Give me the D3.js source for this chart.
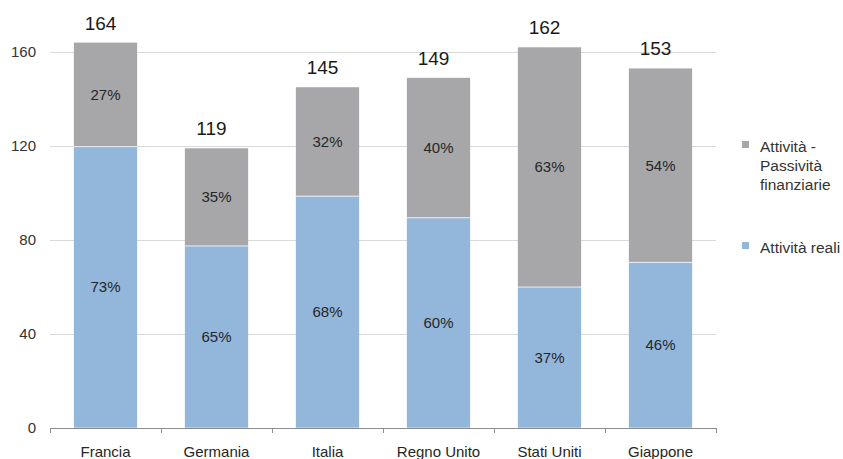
<!DOCTYPE html>
<html>
<head>
<meta charset="utf-8">
<script src="https://cdn.jsdelivr.net/npm/d3@7"></script>
<style>
  body { margin: 0; background: #fff; }
  text { font-family: Arial, "Liberation Sans", sans-serif; }
</style>
</head>
<body>
<script>
// data
var countries = ['Francia', 'Germania', 'Italia', 'Regno Unito', 'Stati Uniti', 'Giappone']
var totals = [164, 119, 145, 149, 162, 153]
var realValues = [119.7, 77.4, 98.6, 89.4, 59.9, 70.4]
var finValues = [44.3, 41.6, 46.4, 59.6, 102.1, 82.6]
var realPct = ['73%', '65%', '68%', '60%', '37%', '46%']
var finPct = ['27%', '35%', '32%', '40%', '63%', '54%']
var yTicks = [0, 40, 80, 120, 160]
var legendLabels = [['Attività -', 'Passività', 'finanziarie'], ['Attività reali']]

var width = 843
var height = 459
var margin = {top: 52, left: 50, right: 127, bottom: 31}

var colorReal = '#93b6db'
var colorFin = '#a7a7aa'

var svg = d3.select('body')
  .append('svg')
    .attr('width', width)
    .attr('height', height)

var x = d3.scaleBand()
  .domain(countries)
  .range([margin.left, width - margin.right])
  .paddingInner(0.43)
  .paddingOuter(0.215)

var y = d3.scaleLinear()
  .domain([0, 160])
  .range([height - margin.bottom - 0.3, margin.top])

// gridlines
svg.append('g')
  .selectAll('line')
  .data(yTicks.filter(function(d) { return d > 0 }))
  .enter().append('line')
    .attr('x1', margin.left)
    .attr('x2', width - margin.right)
    .attr('y1', function(d) { return Math.round(y(d)) + 0.5 })
    .attr('y2', function(d) { return Math.round(y(d)) + 0.5 })
    .attr('stroke', '#d9d9d9')
    .attr('stroke-width', 1)

// y axis labels
svg.append('g')
  .selectAll('text')
  .data(yTicks)
  .enter().append('text')
    .attr('x', 36)
    .attr('y', function(d) { return y(d) })
    .attr('dy', '0.35em')
    .attr('text-anchor', 'end')
    .attr('font-size', 15)
    .attr('fill', '#333')
    .text(function(d) { return d })

// bars
var bars = svg.append('g')
  .selectAll('g')
  .data(countries)
  .enter().append('g')

bars.append('rect')
  .attr('x', function(d) { return x(d) })
  .attr('width', x.bandwidth())
  .attr('y', function(d, i) { return y(realValues[i]) })
  .attr('height', function(d, i) { return y(0) - y(realValues[i]) })
  .attr('fill', colorReal)

bars.append('rect')
  .attr('x', function(d) { return x(d) })
  .attr('width', x.bandwidth())
  .attr('y', function(d, i) { return y(realValues[i] + finValues[i]) })
  .attr('height', function(d, i) { return y(realValues[i]) - y(realValues[i] + finValues[i]) })
  .attr('fill', colorFin)

// light separator between the segments
bars.append('line')
  .attr('x1', function(d) { return x(d) })
  .attr('x2', function(d) { return x(d) + x.bandwidth() })
  .attr('y1', function(d, i) { return y(realValues[i]) })
  .attr('y2', function(d, i) { return y(realValues[i]) })
  .attr('stroke', '#e8eef5')
  .attr('stroke-width', 1)

// percentage labels
bars.append('text')
  .attr('x', function(d) { return x(d) + x.bandwidth() / 2 })
  .attr('y', function(d, i) { return (y(0) + y(realValues[i])) / 2 })
  .attr('dy', '0.35em')
  .attr('text-anchor', 'middle')
  .attr('font-size', 15)
  .attr('fill', '#262626')
  .text(function(d, i) { return realPct[i] })

bars.append('text')
  .attr('x', function(d) { return x(d) + x.bandwidth() / 2 })
  .attr('y', function(d, i) { return (y(realValues[i]) + y(realValues[i] + finValues[i])) / 2 })
  .attr('dy', '0.35em')
  .attr('text-anchor', 'middle')
  .attr('font-size', 15)
  .attr('fill', '#262626')
  .text(function(d, i) { return finPct[i] })

// totals above bars
bars.append('text')
  .attr('x', function(d) { return x(d) + x.bandwidth() / 2 - 5 })
  .attr('y', function(d, i) { return y(totals[i]) - 13 })
  .attr('text-anchor', 'middle')
  .attr('font-family', '"Open Sans", "DejaVu Sans", sans-serif')
  .attr('font-size', 19)
  .attr('fill', '#1a1a1a')
  .text(function(d, i) { return totals[i] })

// x axis
var xAxis = svg.append('g')
xAxis.append('line')
  .attr('x1', margin.left)
  .attr('x2', width - margin.right)
  .attr('y1', Math.round(y(0)) + 0.5)
  .attr('y2', Math.round(y(0)) + 0.5)
  .attr('stroke', '#8c8c8c')

var step = x.step()
xAxis.selectAll('.tick')
  .data(d3.range(countries.length + 1))
  .enter().append('line')
    .attr('class', 'tick')
    .attr('x1', function(i) { return Math.round(margin.left + i * step) + 0.5 })
    .attr('x2', function(i) { return Math.round(margin.left + i * step) + 0.5 })
    .attr('y1', Math.round(y(0)))
    .attr('y2', Math.round(y(0)) + 5)
    .attr('stroke', '#8c8c8c')

xAxis.selectAll('.xlabel')
  .data(countries)
  .enter().append('text')
    .attr('class', 'xlabel')
    .attr('x', function(d) { return x(d) + x.bandwidth() / 2 })
    .attr('y', 452)
    .attr('dy', '0.35em')
    .attr('text-anchor', 'middle')
    .attr('font-size', 15)
    .attr('fill', '#262626')
    .text(function(d) { return d })

// legend
var legendColors = [colorFin, colorReal]
var legendY = [147, 248]
var legend = svg.append('g')
  .selectAll('g')
  .data(legendLabels)
  .enter().append('g')

legend.append('rect')
  .attr('x', 742)
  .attr('y', function(d, i) { return legendY[i] - 6 })
  .attr('width', 7)
  .attr('height', 7)
  .attr('fill', function(d, i) { return legendColors[i] })

legend.append('text')
  .attr('x', 760)
  .attr('y', function(d, i) { return legendY[i] })
  .attr('font-size', 15.5)
  .attr('fill', '#333')
  .selectAll('tspan')
  .data(function(d) { return d })
  .enter().append('tspan')
    .attr('x', 760)
    .attr('dy', function(d, j) { return j === 0 ? '0.35em' : 19 })
    .text(function(d) { return d })
</script>
</body>
</html>
